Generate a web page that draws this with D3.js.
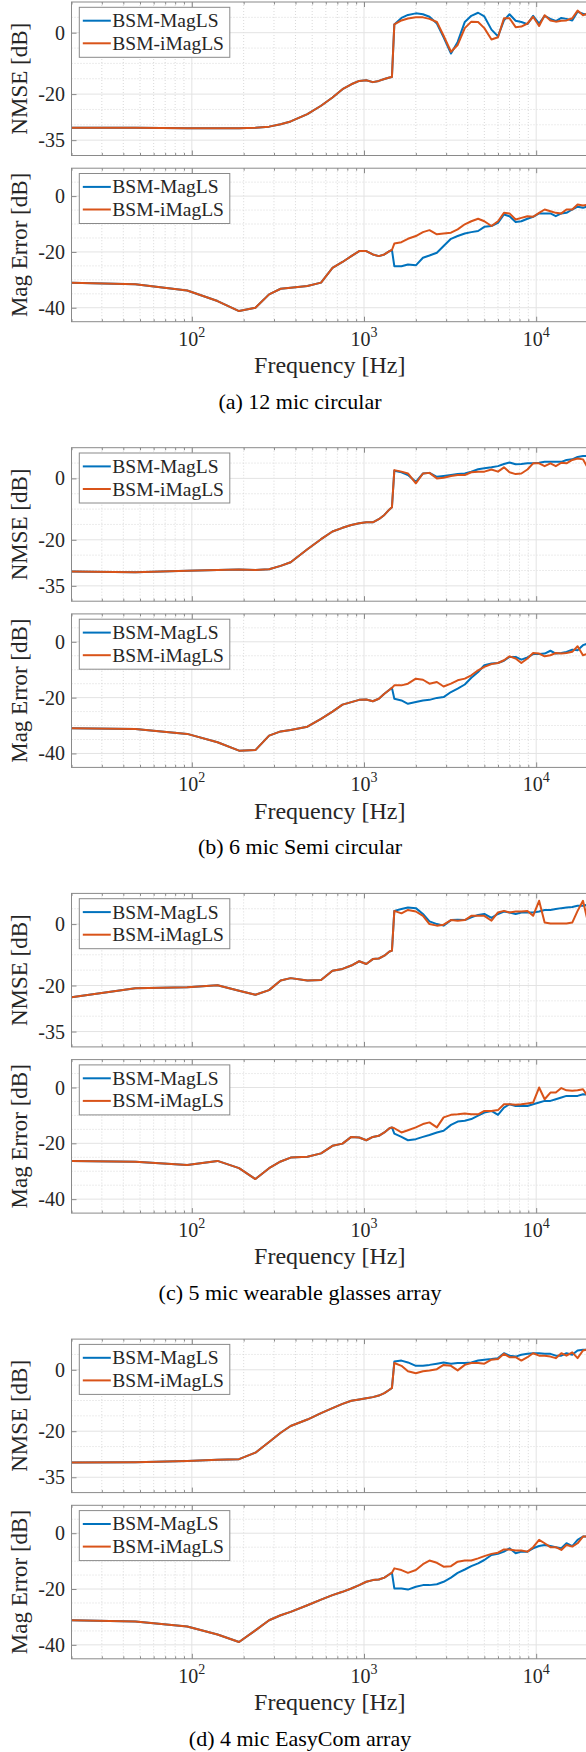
<!DOCTYPE html>
<html>
<head>
<meta charset="utf-8">
<script src="https://cdn.jsdelivr.net/npm/d3@7"></script>
<style>
    body { margin: 0; background: #fff; }
    text { font-family: "Liberation Serif", "Times New Roman", serif; fill: #262626; }
</style>
</head>
<body>
<div id="chart"></div>
<script>
//---------------------------------------------------
// data (dB values)
//---------------------------------------------------
// below ~1.5 kHz both methods give the same curve
var freqLow = [20, 47, 94, 141, 188, 234, 281, 328, 375, 469, 563, 656, 750, 844, 938, 1031, 1125, 1219, 1313, 1406, 1453]
var freqHigh = [1500, 1650, 1800, 2000, 2200, 2400, 2650, 2900, 3200, 3500, 3850, 4200, 4600, 5000, 5500, 6000,
    6500, 7000, 7600, 8200, 8900, 9600, 10400, 11200, 12100, 13000, 14000, 15000, 16200, 17400, 18700, 20000]

var seriesNames = ["BSM-MagLS", "BSM-iMagLS"]
var captions = ["(a) 12 mic circular", "(b) 6 mic Semi circular", "(c) 5 mic wearable glasses array", "(d) 4 mic EasyCom array"]
var nmseTicks = [-35, -20, 0]
var errTicks = [-40, -20, 0]
var xTicks = [100, 1000, 10000]
var xTickExp = ["2", "3", "4"]

// (a) 12 mic circular
var nmseLowA = [-31, -31, -31.1, -31.1, -31.1, -31, -30.6, -29.8, -28.9, -26.5, -23.8, -21.1, -18.4, -16.8, -15.7, -15.5, -16.1, -15.7, -15.1, -14.6, -14.4]
var nmseMagA = [2.7, 4.8, 5.8, 6.3, 6.0, 5.2, 3.0, -1.5, -6.8, -3.0, 3.5, 5.5, 6.5, 5.3, 1.0, -1.2, 4.0, 6.0, 3.9, 3.5, 2.8, 5.5, 3.0, 5.5, 4.5, 3.8, 4.8, 4.5, 4.0, 6.8, 6.2, 5.8]
var nmseIMagA = [2.7, 4.0, 4.6, 5.0, 5.0, 4.5, 3.5, -1.0, -6.2, -4.0, 1.5, 3.6, 3.5, 1.5, -2.2, -1.5, 4.7, 4.7, 1.8, 2.0, 3.0, 5.2, 2.2, 5.7, 4.0, 3.6, 3.9, 4.0, 4.7, 7.2, 5.7, 6.3]
var errLowA = [-31.0, -31.6, -33.8, -37.6, -41.2, -40.0, -35.2, -33.2, -32.8, -32.2, -31.0, -25.7, -23.6, -21.5, -19.7, -19.7, -20.9, -21.5, -20.9, -19.7, -19.3]
var errMagA = [-25.1, -25.1, -24.5, -24.8, -22.1, -21.3, -20.3, -17.9, -15.3, -14.3, -13.4, -12.9, -12.5, -11.0, -10.7, -9.6, -6.6, -7.2, -9.3, -9.0, -8.1, -7.4, -6.2, -6.2, -6.2, -7.2, -6.2, -6.0, -4.8, -3.8, -4.2, -3.6]
var errIMagA = [-17.0, -16.5, -15.3, -14.3, -12.9, -12.2, -13.7, -13.4, -13.1, -11.9, -10.1, -9.0, -8.1, -9.0, -10.7, -9.0, -6.0, -6.2, -8.4, -7.8, -7.2, -7.4, -6.0, -4.8, -5.4, -6.0, -6.2, -4.8, -4.8, -3.0, -3.4, -3.0]

// (b) 6 mic Semi circular
var nmseLowB = [-30.3, -30.6, -30.1, -29.8, -29.7, -29.8, -29.6, -28.5, -27.3, -23.1, -19.8, -17.3, -16.1, -15.2, -14.6, -14.3, -14.3, -13.3, -11.9, -10.1, -9.4]
var nmseMagB = [2.5, 2.0, 1.1, -1.1, 1.6, 1.8, 0.5, 0.8, 1.1, 1.4, 1.6, 2.2, 3.0, 3.3, 3.6, 4.0, 4.7, 5.2, 4.6, 4.7, 4.9, 4.9, 5.1, 5.4, 5.4, 5.4, 5.4, 6.0, 6.2, 7.0, 7.3, 7.3]
var nmseIMagB = [2.7, 2.2, 1.6, -1.6, 1.6, 1.8, 0, 0.2, 0.8, 1.1, 1.1, 2.0, 2.2, 2.2, 2.9, 2.2, 3.6, 2.0, 1.4, 1.6, 2.9, 4.9, 4.9, 4.0, 4.9, 4.0, 5.1, 4.9, 6.0, 6.5, 6.2, 3.3]
var errLowB = [-31.0, -31.2, -33.0, -36.0, -39.0, -38.8, -33.6, -32.1, -31.6, -30.4, -27.6, -25.0, -22.5, -21.6, -20.8, -20.7, -21.3, -20.4, -18.6, -17.2, -16.5]
var errMagB = [-20.4, -21.0, -22.2, -21.6, -21.0, -20.8, -20.1, -19.8, -18.0, -16.8, -15.3, -12.9, -10.8, -8.4, -7.8, -7.6, -6.8, -5.4, -5.4, -6.4, -5.6, -4.4, -4.4, -4.2, -3.2, -4.2, -4.0, -3.6, -2.8, -3.0, -1.2, -0.6]
var errIMagB = [-15.6, -15.6, -15.0, -13.2, -13.6, -15.0, -14.4, -16.0, -15.0, -13.8, -13.2, -12.0, -10.2, -9.0, -8.0, -7.6, -6.6, -5.2, -6.0, -7.6, -6.0, -4.0, -4.2, -5.2, -4.8, -4.0, -4.2, -4.0, -3.6, -1.6, -4.8, -4.2]

// (c) 5 mic wearable glasses array
var nmseLowC = [-23.8, -20.9, -20.6, -19.9, -21.7, -23.0, -21.5, -18.4, -17.6, -18.4, -18.2, -15.2, -14.6, -13.5, -12.1, -13.0, -11.4, -11.2, -10.3, -8.9, -8.7]
var nmseMagC = [4.3, 4.9, 5.4, 5.2, 3.3, 0.9, 0, -0.5, 1.3, 1.4, 1.3, 2.2, 3.0, 3.3, 2.0, 3.3, 4.1, 3.8, 3.3, 3.8, 3.8, 3.8, 4.1, 4.6, 4.6, 4.9, 5.2, 5.4, 5.6, 6.0, 6.0, 6.3]
var nmseIMagC = [4.3, 3.5, 4.6, 4.1, 2.7, 0, -0.5, -0.2, 1.3, 1.1, 1.3, 2.7, 2.7, 2.7, 1.1, 3.8, 4.3, 3.8, 4.1, 4.1, 4.3, 2.7, 7.6, 0.5, 0.2, 0.2, 0.2, 0.2, 0.5, 4.3, 7.6, 0.5]
var errLowC = [-26.3, -26.6, -27.8, -26.3, -28.9, -32.8, -28.9, -26.5, -25.1, -24.8, -23.6, -20.9, -20.1, -17.7, -17.9, -18.9, -17.7, -17.3, -16.1, -14.6, -14.3]
var errMagC = [-16.5, -17.7, -18.9, -18.5, -17.7, -17.0, -16.1, -15.5, -13.4, -12.2, -11.9, -11.3, -10.1, -9.0, -8.4, -9.8, -7.2, -6.0, -6.6, -6.6, -6.6, -6.0, -5.4, -4.8, -4.8, -4.2, -3.6, -3.0, -3.0, -3.0, -2.4, -2.6]
var errIMagC = [-14.6, -16.1, -15.3, -14.3, -13.1, -12.5, -14.3, -10.7, -9.8, -9.6, -9.3, -9.6, -9.6, -8.4, -8.4, -8.1, -6.0, -6.0, -6.2, -6.0, -5.7, -5.4, 0, -4.2, -1.8, -1.8, -0.2, -1.0, -1.2, -1.0, -0.6, -3.3]

// (d) 4 mic EasyCom array
var nmseLowD = [-30.2, -30.1, -29.7, -29.3, -29.1, -27.0, -23.5, -20.5, -18.3, -16.2, -14.1, -12.5, -11.1, -10.1, -9.7, -9.3, -8.9, -8.4, -7.6, -6.5, -5.9]
var nmseMagD = [2.7, 3.0, 2.4, 1.3, 1.3, 1.6, 2.0, 2.4, 2.0, 2.2, 2.2, 2.4, 3.0, 3.3, 3.5, 3.8, 5.4, 4.6, 4.3, 4.9, 5.2, 5.4, 5.4, 5.2, 5.2, 4.6, 4.6, 5.4, 4.9, 6.3, 6.5, 6.5]
var nmseIMagD = [2.2, 1.3, -0.5, -1.1, -0.5, -0.2, 0.2, 1.6, 1.3, -0.2, 1.6, 2.2, 2.2, 2.0, 3.3, 3.5, 5.2, 4.1, 4.1, 3.0, 4.1, 5.4, 4.6, 4.6, 4.3, 3.8, 5.4, 4.6, 5.7, 3.8, 6.3, 6.7]
var errLowD = [-31.2, -31.6, -33.4, -36.3, -39.0, -34.8, -31.2, -29.4, -28.2, -25.8, -23.8, -22.2, -21.0, -19.8, -18.6, -17.4, -16.8, -16.6, -15.9, -14.7, -14.2]
var errMagD = [-19.8, -19.8, -20.2, -19.2, -18.6, -18.6, -18.3, -17.4, -15.9, -14.2, -13.0, -11.8, -10.8, -9.6, -7.8, -7.4, -6.6, -5.4, -7.2, -6.6, -6.6, -5.4, -4.6, -4.2, -4.6, -5.0, -5.4, -3.6, -4.6, -2.4, -1.2, -1.2]
var errIMagD = [-12.6, -13.2, -14.2, -13.2, -11.1, -9.8, -10.6, -12.0, -11.8, -10.2, -9.8, -9.8, -9.0, -8.2, -7.4, -7.0, -5.8, -5.8, -6.2, -6.2, -6.6, -5.0, -2.4, -3.6, -5.0, -5.0, -6.0, -4.2, -4.8, -3.6, -1.2, -1.2]

var subfigs = [
    { nmse: [nmseLowA, nmseMagA, nmseIMagA], err: [errLowA, errMagA, errIMagA] },
    { nmse: [nmseLowB, nmseMagB, nmseIMagB], err: [errLowB, errMagB, errIMagB] },
    { nmse: [nmseLowC, nmseMagC, nmseIMagC], err: [errLowC, errMagC, errIMagC] },
    { nmse: [nmseLowD, nmseMagD, nmseIMagD], err: [errLowD, errMagD, errIMagD] }
]

//---------------------------------------------------
// layout
//---------------------------------------------------
var W = 586, H = 1752
var plotLeft = 71.5, plotRight = 588
var subfigStep = 445.7
var panelH = 153.5
var colors = ["#0072BD", "#D95319"]
var axisColor = "#8a8a8a"

var svg = d3.select("#chart").append("svg")
    .attr("width", W)
    .attr("height", H)

var x = d3.scaleLog().domain([20, 20000]).range([plotLeft, plotRight])
var xMinor = x.ticks().filter(function (f) { return xTicks.indexOf(f) < 0 })

var clipCount = 0

function drawPanel(top, yDomain, yTicks, ylabel, vals, showX) {
    var bottom = top + panelH
    var y = d3.scaleLinear().domain(yDomain).range([bottom, top])
    var yMinor = d3.range(yDomain[0] + 5, yDomain[1], 5).filter(function (v) { return yTicks.indexOf(v) < 0 })
    var g = svg.append("g")

    //------------------------------------------
    // grid
    //------------------------------------------
    g.selectAll(".xminor").data(xMinor).enter().append("line")
        .attr("x1", function (d) { return x(d) }).attr("x2", function (d) { return x(d) })
        .attr("y1", top).attr("y2", bottom)
        .style("stroke", "#cfcfcf").style("stroke-width", 0.8).style("stroke-dasharray", "1,2")
    g.selectAll(".yminor").data(yMinor).enter().append("line")
        .attr("x1", plotLeft).attr("x2", plotRight)
        .attr("y1", function (d) { return y(d) }).attr("y2", function (d) { return y(d) })
        .style("stroke", "#cfcfcf").style("stroke-width", 0.8).style("stroke-dasharray", "1,2")
    g.selectAll(".xmajor").data(xTicks).enter().append("line")
        .attr("x1", function (d) { return x(d) }).attr("x2", function (d) { return x(d) })
        .attr("y1", top).attr("y2", bottom)
        .style("stroke", "#e3e3e3").style("stroke-width", 1)
    g.selectAll(".ymajor").data(yTicks).enter().append("line")
        .attr("x1", plotLeft).attr("x2", plotRight)
        .attr("y1", function (d) { return y(d) }).attr("y2", function (d) { return y(d) })
        .style("stroke", "#e3e3e3").style("stroke-width", 1)

    //------------------------------------------
    // inward tick marks (box on)
    //------------------------------------------
    g.append("g").attr("transform", "translate(0," + bottom + ")")
        .call(d3.axisBottom(x).tickValues(xMinor).tickSize(-2.5).tickFormat(""))
    g.append("g").attr("transform", "translate(0," + bottom + ")")
        .call(d3.axisBottom(x).tickValues(xTicks).tickSize(-5).tickFormat(""))
    g.append("g").attr("transform", "translate(0," + top + ")")
        .call(d3.axisTop(x).tickValues(xMinor).tickSize(-2.5).tickFormat(""))
    g.append("g").attr("transform", "translate(0," + top + ")")
        .call(d3.axisTop(x).tickValues(xTicks).tickSize(-5).tickFormat(""))
    g.append("g").attr("transform", "translate(" + plotLeft + ",0)")
        .call(d3.axisLeft(y).tickValues(yTicks).tickSize(-5).tickFormat(""))
    g.selectAll(".domain").remove()
    g.selectAll(".tick line").style("stroke", axisColor)

    //------------------------------------------
    // curves
    //------------------------------------------
    clipCount++
    svg.append("clipPath").attr("id", "clip" + clipCount)
        .append("rect").attr("x", plotLeft).attr("y", top)
        .attr("width", plotRight - plotLeft).attr("height", panelH)

    var line = d3.line()
        .x(function (d) { return x(d[0]) })
        .y(function (d) { return y(d[1]) })

    var low = freqLow.map(function (f, i) { return [f, vals[0][i]] })
    var series = [1, 2].map(function (k) {
        return low.concat(freqHigh.map(function (f, i) { return [f, vals[k][i]] }))
    })

    g.append("g").attr("clip-path", "url(#clip" + clipCount + ")")
        .selectAll("path").data(series).enter().append("path")
        .attr("d", line)
        .style("fill", "none")
        .style("stroke", function (d, i) { return colors[i] })
        .style("stroke-width", 2)
        .style("stroke-linejoin", "round")

    // axes box
    g.append("rect")
        .attr("x", plotLeft).attr("y", top)
        .attr("width", plotRight - plotLeft).attr("height", panelH)
        .style("fill", "none").style("stroke", axisColor).style("stroke-width", 1)

    //------------------------------------------
    // labels
    //------------------------------------------
    g.selectAll(".ylab").data(yTicks).enter().append("text")
        .attr("x", 65).attr("y", function (d) { return y(d) + 7 })
        .style("text-anchor", "end").style("font-size", "20px")
        .text(function (d) { return d })

    g.append("text")
        .attr("transform", "translate(27," + (top + panelH / 2) + ") rotate(-90)")
        .style("text-anchor", "middle").style("font-size", "23px")
        .text(ylabel)

    if (showX) {
        var xl = g.selectAll(".xlab").data(xTicks).enter().append("text")
            .attr("x", function (d) { return x(d) }).attr("y", bottom + 24)
            .style("text-anchor", "middle").style("font-size", "20px")
        xl.append("tspan").text("10")
        xl.append("tspan").attr("dy", -9).style("font-size", "14px")
            .text(function (d, i) { return xTickExp[i] })
    }

    //------------------------------------------
    // legend
    //------------------------------------------
    var lg = g.append("g").attr("transform", "translate(79.3," + (top + 5.3) + ")")
    lg.append("rect").attr("width", 150.5).attr("height", 50)
        .style("fill", "#fff").style("stroke", axisColor).style("stroke-width", 1)
    seriesNames.forEach(function (name, i) {
        var ly = 13.4 + i * 22.6
        lg.append("line").attr("x1", 3.5).attr("x2", 31.5).attr("y1", ly).attr("y2", ly)
            .style("stroke", colors[i]).style("stroke-width", 2)
        lg.append("text").attr("x", 33).attr("y", ly + 6.5)
            .style("font-size", "19.5px").text(name)
    })
}

//---------------------------------------------------
// draw the four sub figures
//---------------------------------------------------
subfigs.forEach(function (s, i) {
    var oy = i * subfigStep
    drawPanel(oy + 2, [-40, 10], nmseTicks, "NMSE [dB]", s.nmse, false)
    drawPanel(oy + 168.2, [-45, 10], errTicks, "Mag Error [dB]", s.err, true)

    svg.append("text")
        .attr("x", (plotLeft + plotRight) / 2).attr("y", oy + 373)
        .style("text-anchor", "middle").style("font-size", "24px")
        .text("Frequency [Hz]")

    svg.append("text")
        .attr("x", 300).attr("y", oy + 408.5)
        .style("text-anchor", "middle").style("font-size", "22px").style("fill", "#000")
        .text(captions[i])
})
</script>
</body>
</html>
